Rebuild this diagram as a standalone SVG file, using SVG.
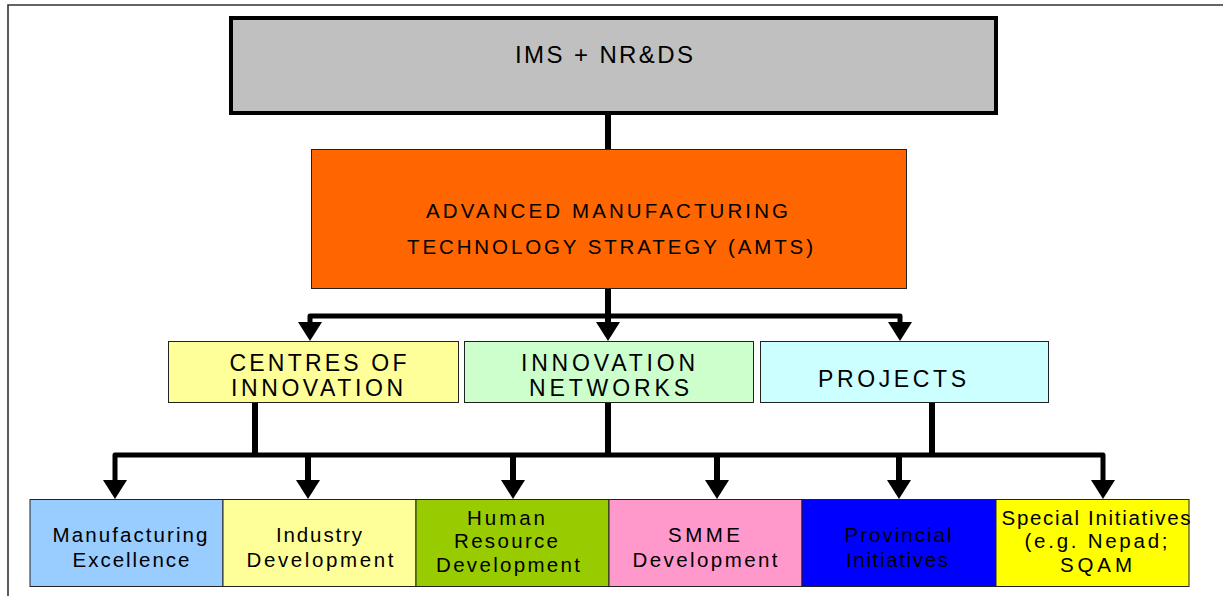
<svg xmlns="http://www.w3.org/2000/svg" width="1223" height="596" viewBox="0 0 1223 596">
<style>
text{font-family:"Liberation Sans",Arial,sans-serif;fill:#000;text-anchor:middle}
.t1{font-size:24px}
.t2{font-size:20.5px}
.t3{font-size:23px}
.t4{font-size:20.5px}
.box{stroke:#222;stroke-width:1}
.wire{fill:none;stroke:#000;stroke-width:5;stroke-linejoin:round}
.v{fill:none;stroke:#000;stroke-width:6}
.head{fill:#000}
</style>
<rect width="1223" height="596" fill="#fff"/>
<path d="M8,596 V5 H1223" fill="none" stroke="#333" stroke-width="1.6"/>
<g id="connectors">
<line class="v" x1="608" y1="115" x2="608" y2="149" stroke-width="7"/>
<path class="v" d="M608,289 V318"/>
<path class="wire" d="M310,324 V316 H900 V324"/>
<path class="v" d="M608,316 V324"/>
<polygon class="head" points="298,322 322,322 310,341"/>
<polygon class="head" points="596,322 620,322 608,341"/>
<polygon class="head" points="888,322 912,322 900,341"/>
<path class="v" d="M255,403 V456 M608,403 V456 M932,403 V456"/>
<path class="wire" d="M115,482 V455 H1103 V482"/>
<path class="v" d="M308,455 V482 M513,455 V482 M717,455 V482 M899,455 V482"/>
<polygon class="head" points="103,480 127,480 115,499"/>
<polygon class="head" points="296,480 320,480 308,499"/>
<polygon class="head" points="501,480 525,480 513,499"/>
<polygon class="head" points="705,480 729,480 717,499"/>
<polygon class="head" points="887,480 911,480 899,499"/>
<polygon class="head" points="1091,480 1115,480 1103,499"/>
</g>
<g id="ims">
<rect x="231" y="18" width="765" height="95" fill="#c0c0c0" stroke="#000" stroke-width="4"/>
<text class="t1" x="604" y="63" textLength="178" lengthAdjust="spacing">IMS + NR&amp;DS</text>
</g>
<g id="amts">
<rect class="box" x="311.5" y="149.5" width="595" height="139" fill="#ff6600"/>
<text class="t2" x="607" y="218" textLength="362" lengthAdjust="spacing">ADVANCED MANUFACTURING</text>
<text class="t2" x="610" y="254" textLength="406" lengthAdjust="spacing">TECHNOLOGY STRATEGY (AMTS)</text>
</g>
<g id="centres">
<rect class="box" x="168.5" y="341.5" width="290" height="61" fill="#ffff99"/>
<text class="t3" x="318" y="371" textLength="177" lengthAdjust="spacing">CENTRES OF</text>
<text class="t3" x="317" y="396" textLength="172" lengthAdjust="spacing">INNOVATION</text>
</g>
<g id="networks">
<rect class="box" x="464.5" y="341.5" width="289" height="61" fill="#ccffcc"/>
<text class="t3" x="608" y="371" textLength="174" lengthAdjust="spacing">INNOVATION</text>
<text class="t3" x="609" y="396" textLength="160" lengthAdjust="spacing">NETWORKS</text>
</g>
<g id="projects">
<rect class="box" x="760.5" y="341.5" width="288" height="61" fill="#ccffff"/>
<text class="t3" x="892" y="387" textLength="148" lengthAdjust="spacing">PROJECTS</text>
</g>
<g id="manufacturing">
<rect class="box" x="30" y="499.5" width="193" height="87" fill="#99ccff"/>
<text class="t4" x="130" y="542" textLength="155" lengthAdjust="spacing">Manufacturing</text>
<text class="t4" x="131" y="567" textLength="117" lengthAdjust="spacing">Excellence</text>
</g>
<g id="industry">
<rect class="box" x="223" y="499.5" width="193" height="87" fill="#ffff99"/>
<text class="t4" x="319" y="542" textLength="86" lengthAdjust="spacing">Industry</text>
<text class="t4" x="320" y="567" textLength="147" lengthAdjust="spacing">Development</text>
</g>
<g id="human">
<rect class="box" x="416" y="499.5" width="193" height="87" fill="#99cc00"/>
<text class="t4" x="506" y="525" textLength="78" lengthAdjust="spacing">Human</text>
<text class="t4" x="506" y="548" textLength="104" lengthAdjust="spacing">Resource</text>
<text class="t4" x="508" y="572" textLength="144" lengthAdjust="spacing">Development</text>
</g>
<g id="smme">
<rect class="box" x="609" y="499.5" width="193" height="87" fill="#ff99cc"/>
<text class="t4" x="704" y="542" textLength="72" lengthAdjust="spacing">SMME</text>
<text class="t4" x="705" y="567" textLength="145" lengthAdjust="spacing">Development</text>
</g>
<g id="provincial">
<rect class="box" x="802" y="499.5" width="194" height="87" fill="#0000ff"/>
<text class="t4" x="898" y="542" textLength="107" lengthAdjust="spacing">Provincial</text>
<text class="t4" x="897" y="567" textLength="102" lengthAdjust="spacing">Initiatives</text>
</g>
<g id="special">
<rect class="box" x="996" y="499.5" width="193" height="87" fill="#ffff00"/>
<text class="t4" x="1096" y="525" textLength="189" lengthAdjust="spacing">Special Initiatives</text>
<text class="t4" x="1096" y="548" textLength="143" lengthAdjust="spacing">(e.g. Nepad;</text>
<text class="t4" x="1096" y="572" textLength="72" lengthAdjust="spacing">SQAM</text>
</g>
</svg>
